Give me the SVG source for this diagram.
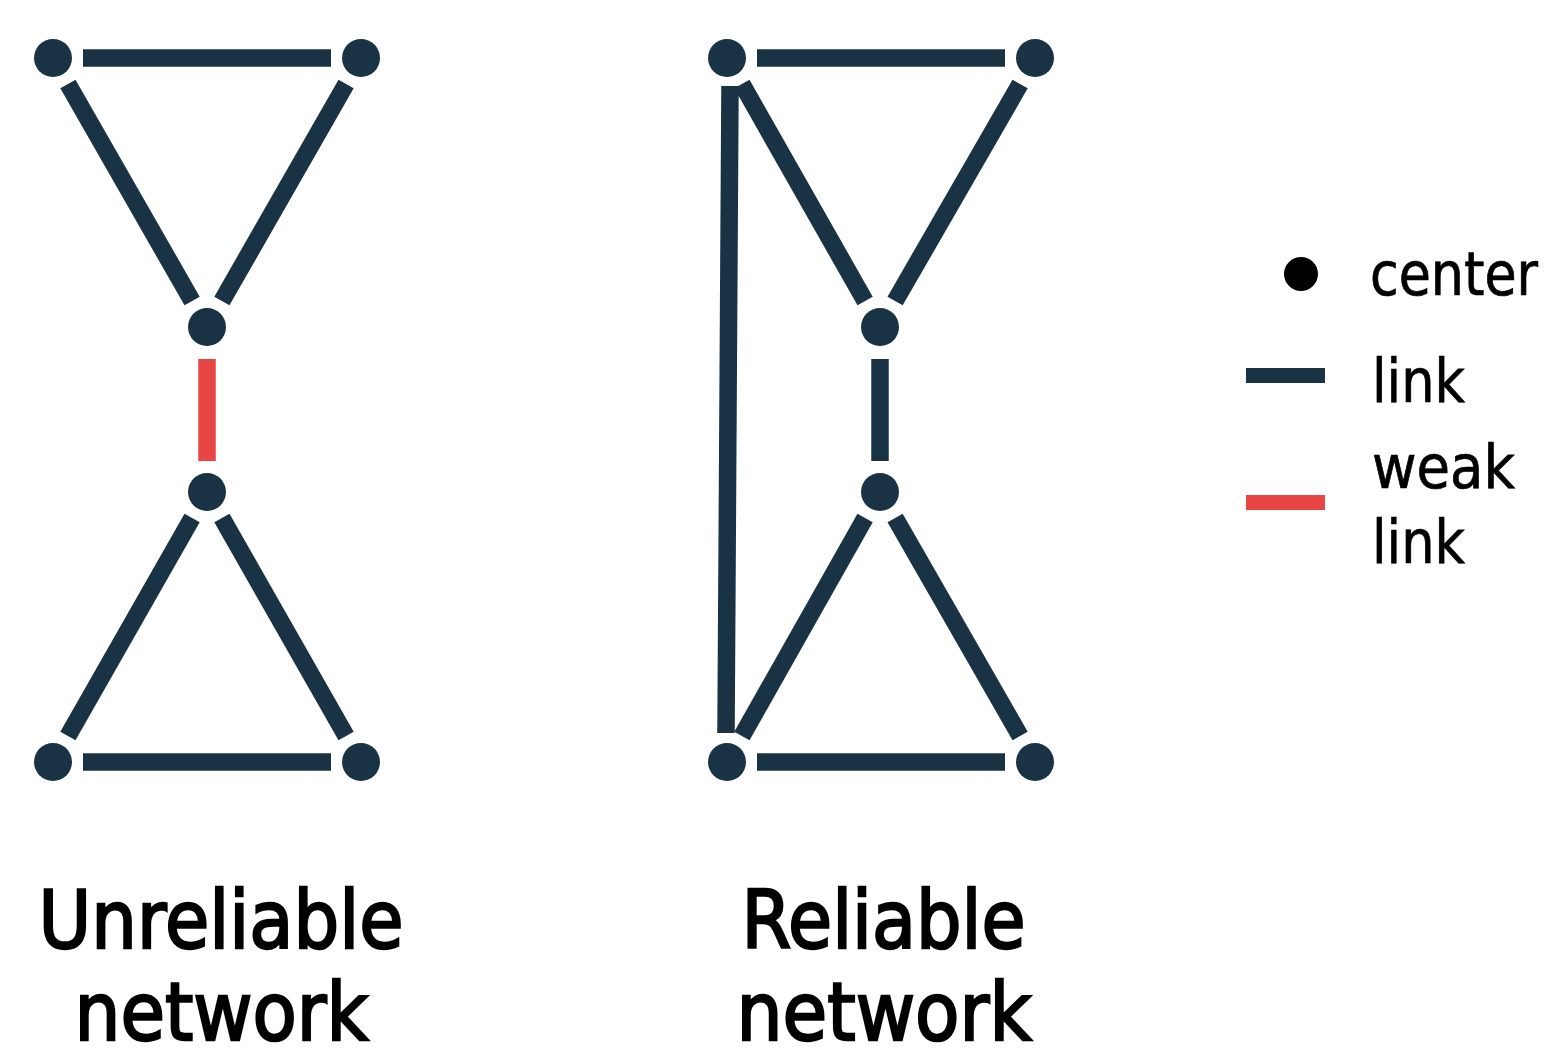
<svg xmlns="http://www.w3.org/2000/svg" width="1550" height="1059" viewBox="0 0 1550 1059">
  <style>
    .node { fill: #1a3344; }
    .link { stroke: #1a3344; stroke-width: 17.5; stroke-linecap: butt; fill: none; }
    .weak { stroke: #e84545; stroke-width: 17.5; stroke-linecap: butt; fill: none; }
    .title { font-family: "DejaVu Sans", sans-serif; font-size: 80px; fill: #000; stroke: #000; stroke-width: 2.4; text-anchor: middle; }
    .legend { font-family: "DejaVu Sans Condensed", "DejaVu Sans", sans-serif; font-stretch: condensed; font-size: 61px; fill: #000; stroke: #000; stroke-width: 0.7; }
  </style>
  <rect width="1550" height="1059" fill="#ffffff"/>

  <g id="connectors">
    <!-- Unreliable network -->
    <line class="link" x1="83" y1="58" x2="331" y2="58"/>
    <line class="link" x1="67.9" y1="84" x2="192.1" y2="301"/>
    <line class="link" x1="346.1" y1="84" x2="221.9" y2="301"/>
    <line class="weak" x1="207" y1="359" x2="207" y2="461"/>
    <line class="link" x1="192.1" y1="518" x2="67.9" y2="736"/>
    <line class="link" x1="221.9" y1="518" x2="346.1" y2="736"/>
    <line class="link" x1="83" y1="762" x2="331" y2="762"/>
    <!-- Reliable network -->
    <line class="link" x1="757" y1="58" x2="1005" y2="58"/>
    <line class="link" x1="741.9" y1="84" x2="865.1" y2="301"/>
    <line class="link" x1="1020.1" y1="84" x2="895.1" y2="301"/>
    <line class="link" x1="880" y1="359" x2="880" y2="461"/>
    <line class="link" x1="865.1" y1="518" x2="741.9" y2="736"/>
    <line class="link" x1="895.1" y1="518" x2="1020.1" y2="736"/>
    <line class="link" x1="757" y1="762" x2="1005" y2="762"/>
    <line class="link" x1="730" y1="86" x2="726" y2="733"/>
  </g>

  <g id="unreliable-network">
    <g id="u-n1"><circle class="node" cx="53" cy="58" r="19"/></g>
    <g id="u-n2"><circle class="node" cx="361" cy="58" r="19"/></g>
    <g id="u-n3"><circle class="node" cx="207" cy="327" r="19"/></g>
    <g id="u-n4"><circle class="node" cx="207" cy="492" r="19"/></g>
    <g id="u-n5"><circle class="node" cx="53" cy="762" r="19"/></g>
    <g id="u-n6"><circle class="node" cx="361" cy="762" r="19"/></g>
  </g>

  <g id="reliable-network">
    <g id="r-n1"><circle class="node" cx="727" cy="58" r="19"/></g>
    <g id="r-n2"><circle class="node" cx="1035" cy="58" r="19"/></g>
    <g id="r-n3"><circle class="node" cx="880" cy="327" r="19"/></g>
    <g id="r-n4"><circle class="node" cx="880" cy="492" r="19"/></g>
    <g id="r-n5"><circle class="node" cx="727" cy="762" r="19"/></g>
    <g id="r-n6"><circle class="node" cx="1035" cy="762" r="19"/></g>
  </g>

  <g id="titles">
    <text class="title" x="221" y="948" textLength="365" lengthAdjust="spacingAndGlyphs">Unreliable</text>
    <text class="title" x="221.5" y="1040" textLength="294" lengthAdjust="spacingAndGlyphs">network</text>
    <text class="title" x="883.5" y="948" textLength="284" lengthAdjust="spacingAndGlyphs">Reliable</text>
    <text class="title" x="884" y="1040" textLength="295" lengthAdjust="spacingAndGlyphs">network</text>
  </g>

  <g id="legend">
    <circle cx="1301" cy="274" r="17" fill="#000"/>
    <rect x="1246" y="368" width="79" height="15" fill="#1a3344"/>
    <rect x="1246" y="495" width="79" height="15" fill="#e84545"/>
    <text class="legend" x="1370" y="295" textLength="168" lengthAdjust="spacingAndGlyphs">center</text>
    <text class="legend" x="1372" y="402" textLength="93" lengthAdjust="spacingAndGlyphs">link</text>
    <text class="legend" x="1372" y="488" textLength="143" lengthAdjust="spacingAndGlyphs">weak</text>
    <text class="legend" x="1372" y="563" textLength="93" lengthAdjust="spacingAndGlyphs">link</text>
  </g>
</svg>
